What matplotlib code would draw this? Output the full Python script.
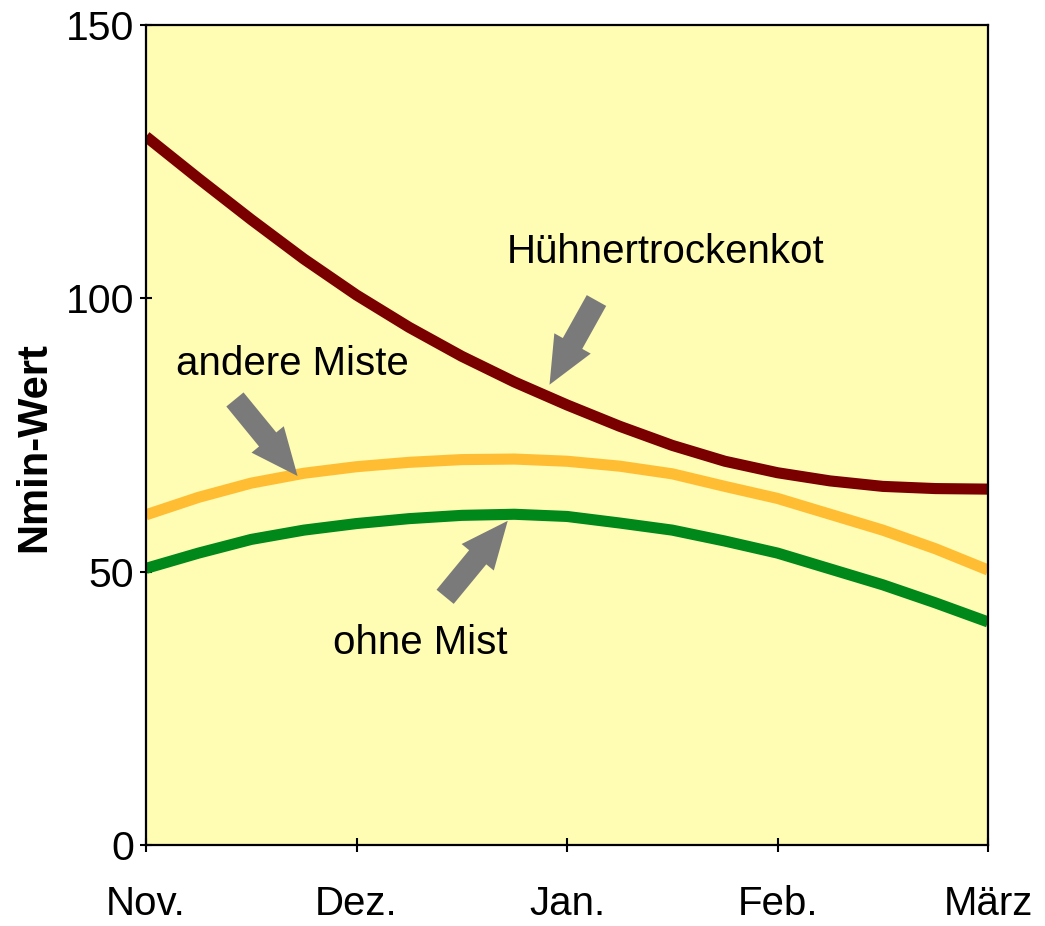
import matplotlib
matplotlib.use("Agg")
import matplotlib.pyplot as plt

plt.rcParams['font.family'] = ['Liberation Sans', 'DejaVu Sans']

# ---- data ----
months = ['Nov.', 'Dez.', 'Jan.', 'Feb.', 'März']
t = [0, 0.25, 0.5, 0.75, 1, 1.25, 1.5, 1.75, 2,
     2.25, 2.5, 2.75, 3, 3.25, 3.5, 3.75, 4]          # months after Nov.
huehner = [129.6, 121.9, 114.4, 107.2, 100.6, 94.7, 89.4, 84.7, 80.5,
           76.6, 73.1, 70.2, 68.1, 66.6, 65.6, 65.2, 65.1]
andere = [60.4, 63.6, 66.2, 68.0, 69.2, 70.0, 70.5, 70.6, 70.2,
          69.3, 67.9, 65.6, 63.4, 60.5, 57.6, 54.2, 50.3]
ohne = [50.6, 53.4, 55.9, 57.6, 58.8, 59.7, 60.3, 60.5, 60.1,
        58.9, 57.6, 55.6, 53.4, 50.5, 47.6, 44.3, 40.8]
yticks = [0, 50, 100, 150]

# annotation arrows: (tail, tip) in data coords
arrows = [((2.140, 99.6), (1.917, 84.2)),
          ((0.4225, 81.5), (0.720, 67.5)),
          ((1.421, 45.4), (1.7185, 59.3))]
labels = [('Hühnertrockenkot', 1.713, 106.4),
          ('andere Miste', 0.143, 85.9),
          ('ohne Mist', 0.889, 35.0)]

fig = plt.figure(figsize=(10.45, 9.26), dpi=100)
ax = fig.add_axes([146/1045, 81/926, 842/1045, 820/926])
ax.set_facecolor('#FFFCB3')

ax.plot(t, huehner, color='#7A0000', lw=8, solid_capstyle='butt', solid_joinstyle='round')
ax.plot(t, andere, color='#FFBD33', lw=8, solid_capstyle='butt', solid_joinstyle='round')
ax.plot(t, ohne, color='#00881A', lw=8, solid_capstyle='butt', solid_joinstyle='round')

for (tail, tip) in arrows:
    ax.annotate('', xy=tip, xytext=tail,
                arrowprops=dict(arrowstyle='simple,head_length=34,head_width=30,tail_width=16',
                                mutation_scale=1, color='#7A7A7A', lw=0,
                                shrinkA=0, shrinkB=0))

for (txt, x, y) in labels:
    ax.text(x, y, txt, fontsize=29, ha='left', va='baseline', color='black')

ax.set_xlim(0, 4)
ax.set_ylim(0, 150)
ax.set_xticks(range(len(months)))
ax.set_xticklabels(months)
ax.set_yticks(yticks)
ax.tick_params(axis='x', direction='inout', length=10, width=1.5, pad=24, labelsize=29)
ax.tick_params(axis='y', direction='inout', length=9, width=1.5, pad=4, labelsize=29.5)
for s in ax.spines.values():
    s.set_linewidth(1.6)
    s.set_color('black')

ax.set_ylabel('Nmin-Wert', fontsize=30, fontweight='bold')
ax.yaxis.set_label_coords(-0.109, 0.4848)

fig.savefig('out.png', dpi=100, facecolor='white')
